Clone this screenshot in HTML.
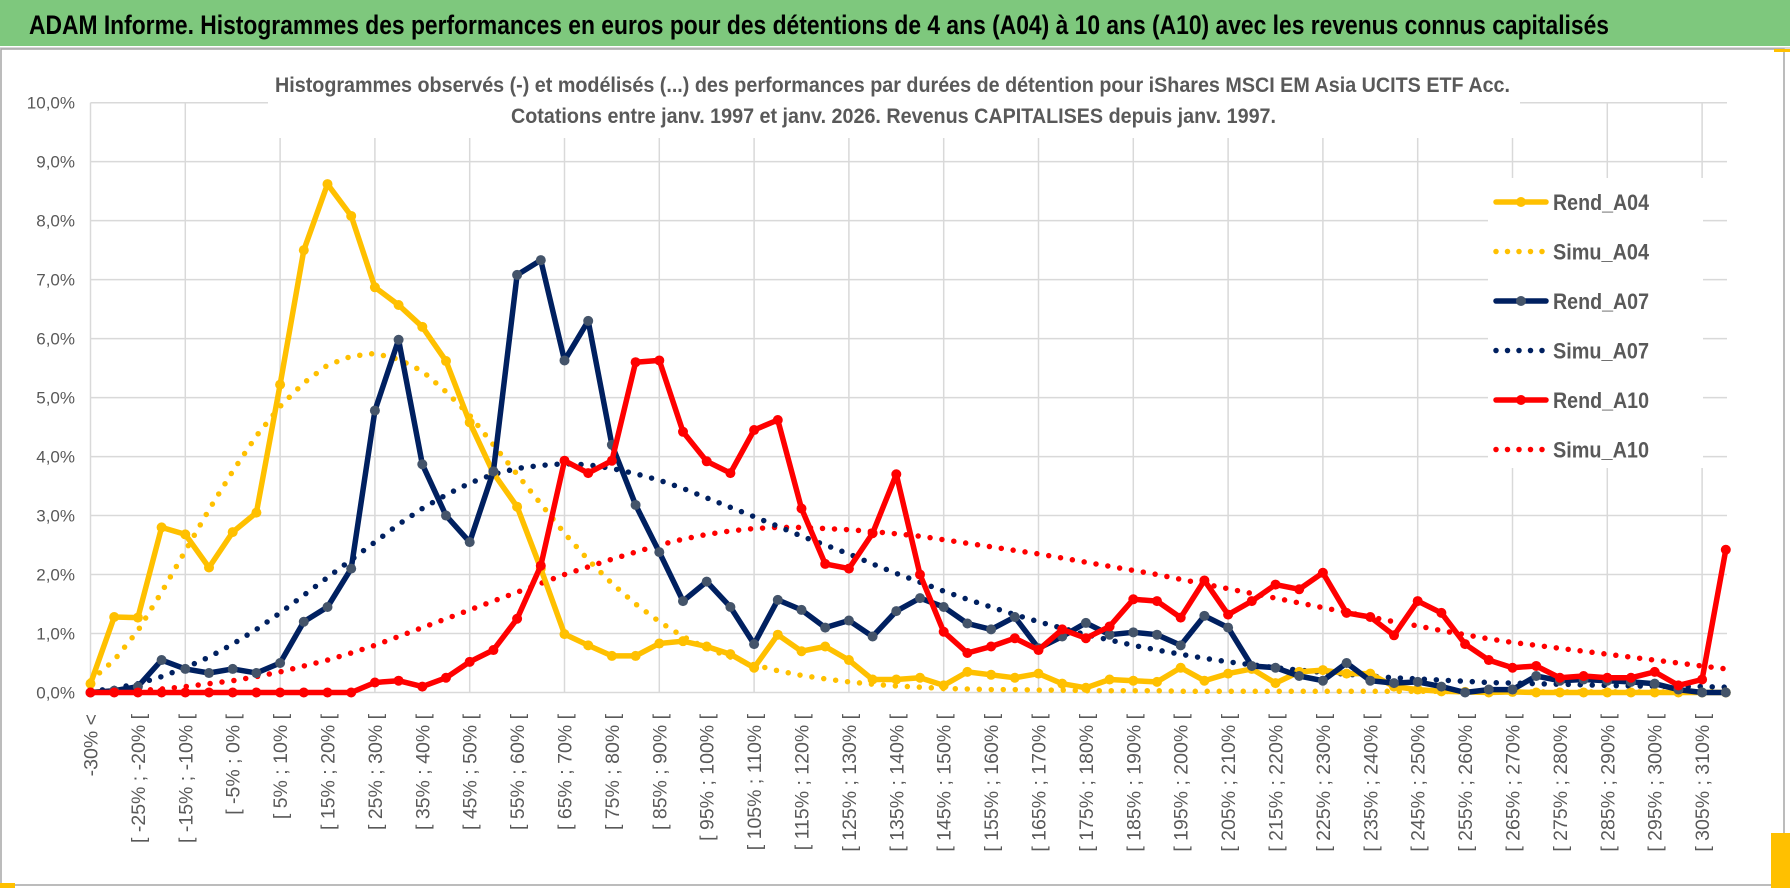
<!DOCTYPE html>
<html><head><meta charset="utf-8">
<style>
html,body{margin:0;padding:0;background:#fff;}
svg{display:block;font-family:"Liberation Sans",sans-serif;}
</style></head>
<body>
<svg id="chart" width="1790" height="888" viewBox="0 0 1790 888">
  <rect x="0" y="0" width="1790" height="888" fill="#ffffff"/>
  <rect x="0" y="0" width="1790" height="46" fill="#7ec87d"/>
  <line x1="0" y1="48" x2="1790" y2="48" stroke="#d9d9d9" stroke-width="2"/>
  <text x="29" y="34" font-size="27" font-weight="bold" fill="#000" textLength="1580" lengthAdjust="spacingAndGlyphs">ADAM Informe. Histogrammes des performances en euros pour des détentions de 4 ans (A04) à 10 ans (A10) avec les revenus connus capitalisés</text>
  <rect x="1" y="49" width="1783" height="836" fill="none" stroke="#a6a6a6" stroke-width="1.5"/>
  <rect x="1774" y="49" width="16" height="3" fill="#ffc000"/>
  <rect x="1771" y="833" width="19" height="55" fill="#ffc000"/>
  <rect x="0" y="883" width="15" height="5" fill="#ffc000"/>
  <g id="grid"></g>
  <g id="ylabels"></g>
  <g id="xlabels"></g>
  <rect x="268" y="70" width="1252" height="68" fill="#fff"/>
  <text x="275" y="92" font-size="21" font-weight="bold" fill="#595959" textLength="1235" lengthAdjust="spacingAndGlyphs">Histogrammes observés (-) et modélisés (...) des performances par durées de détention pour iShares MSCI EM Asia UCITS ETF Acc.</text>
  <text x="511" y="123" font-size="21" font-weight="bold" fill="#595959" textLength="765" lengthAdjust="spacingAndGlyphs">Cotations entre janv. 1997 et janv. 2026. Revenus CAPITALISES depuis janv. 1997.</text>
  <g id="series"></g>
  <g id="legend"></g>
</svg>
<script>
const rendA04 = [0.15,1.28,1.27,2.8,2.68,2.12,2.72,3.05,5.22,7.5,8.62,8.08,6.87,6.57,6.2,5.62,4.58,3.72,3.15,2.1,0.99,0.8,0.62,0.62,0.83,0.87,0.78,0.65,0.42,0.98,0.7,0.78,0.55,0.22,0.22,0.25,0.12,0.35,0.3,0.25,0.32,0.15,0.08,0.22,0.2,0.18,0.42,0.2,0.32,0.4,0.16,0.35,0.38,0.32,0.32,0.1,0.05,0.02,0.01,0.0,0.01,0.0,0.0,0.0,0.0,0.0,0.0,0.0,0.0,0.0];
const simuA04 = [0.2,0.55,1.05,1.7,2.4,3.1,3.75,4.35,4.85,5.25,5.55,5.7,5.75,5.65,5.45,5.1,4.7,4.2,3.7,3.2,2.7,2.25,1.85,1.5,1.2,0.95,0.75,0.6,0.47,0.37,0.29,0.23,0.18,0.14,0.11,0.09,0.07,0.06,0.05,0.05,0.04,0.04,0.03,0.03,0.03,0.03,0.02,0.02,0.02,0.02,0.02,0.02,0.02,0.02,0.02,0.02,0.02,0.02,0.01,0.01,0.01,0.01,0.01,0.01,0.01,0.01,0.01,0.01,0.01,0.01];
const rendA07 = [0.0,0.03,0.1,0.55,0.4,0.33,0.4,0.33,0.5,1.2,1.45,2.1,4.78,5.98,3.87,3.0,2.55,3.75,7.08,7.33,5.63,6.3,4.2,3.18,2.38,1.55,1.88,1.45,0.82,1.57,1.4,1.1,1.22,0.95,1.38,1.6,1.45,1.17,1.07,1.28,0.75,0.95,1.18,0.98,1.02,0.98,0.8,1.3,1.1,0.45,0.42,0.28,0.2,0.5,0.2,0.16,0.18,0.1,0.0,0.05,0.05,0.28,0.2,0.22,0.2,0.18,0.15,0.05,0.0,0.0];
const simuA07 = [0.02,0.07,0.15,0.27,0.42,0.6,0.82,1.07,1.35,1.65,1.95,2.25,2.55,2.85,3.12,3.35,3.55,3.7,3.8,3.85,3.88,3.86,3.8,3.71,3.6,3.46,3.3,3.14,2.98,2.82,2.65,2.5,2.35,2.18,2.02,1.87,1.72,1.58,1.45,1.32,1.2,1.09,0.98,0.89,0.8,0.72,0.65,0.58,0.52,0.47,0.42,0.38,0.34,0.31,0.28,0.25,0.23,0.21,0.19,0.17,0.16,0.15,0.14,0.13,0.12,0.11,0.11,0.1,0.1,0.09];
const rendA10 = [0,0,0,0,0,0,0,0,0,0,0,0,0.17,0.2,0.1,0.25,0.52,0.72,1.25,2.15,3.93,3.72,3.93,5.6,5.63,4.42,3.92,3.72,4.45,4.62,3.12,2.18,2.1,2.7,3.7,2.0,1.03,0.67,0.78,0.92,0.72,1.07,0.92,1.12,1.58,1.55,1.27,1.9,1.32,1.55,1.83,1.75,2.03,1.35,1.28,0.97,1.55,1.35,0.82,0.55,0.42,0.45,0.25,0.28,0.25,0.25,0.35,0.12,0.22,2.42];
const simuA10 = [0.0,0.01,0.03,0.06,0.1,0.15,0.2,0.27,0.35,0.45,0.55,0.67,0.8,0.95,1.1,1.25,1.4,1.55,1.7,1.85,2.0,2.13,2.26,2.38,2.5,2.6,2.68,2.74,2.78,2.8,2.8,2.78,2.76,2.73,2.69,2.65,2.59,2.53,2.47,2.41,2.35,2.28,2.21,2.14,2.07,2.0,1.92,1.84,1.76,1.68,1.6,1.52,1.44,1.36,1.28,1.2,1.13,1.05,0.98,0.91,0.85,0.8,0.75,0.7,0.65,0.6,0.55,0.5,0.45,0.4];
const yTicks = ["0,0%","1,0%","2,0%","3,0%","4,0%","5,0%","6,0%","7,0%","8,0%","9,0%","10,0%"];
const legendLabels = ["Rend_A04","Simu_A04","Rend_A07","Simu_A07","Rend_A10","Simu_A10"];

const NS = "http://www.w3.org/2000/svg";
const X0 = 90.5, DX = 23.7, Y0 = 692.5, YPX = 58.98, XR = 1727;
const xs = i => X0 + i * DX;
const ys = v => Y0 - v * YPX;
function mk(tag, attrs, parent){ const e = document.createElementNS(NS, tag); for (const k in attrs) e.setAttribute(k, attrs[k]); parent.appendChild(e); return e; }

function catLabel(i){
  if (i === 0) return "-30% <";
  const lo = -30 + 5 * (i - 1);
  return "[ " + lo + "% ; " + (lo + 5) + "% [";
}

const grid = document.getElementById('grid');
for (let t = 0; t < yTicks.length; t++) {
  const l = mk('line', {x1: X0, x2: XR, y1: ys(t), y2: ys(t), stroke: '#d9d9d9', 'stroke-width': 1.5}, grid);
  
  
}
const nCat = rendA04.length;
for (let i = 0; i < nCat; i += 4) {
  const l = mk('line', {x1: xs(i), x2: xs(i), y1: ys(10), y2: Y0, stroke: '#d9d9d9', 'stroke-width': 1.5}, grid);
  
  
}
const yl = document.getElementById('ylabels');
yTicks.forEach((t, k) => {
  const e = mk('text', {x: 75, y: ys(k) + 6, 'text-anchor': 'end', 'font-size': 17, fill: '#595959'}, yl);
  e.textContent = t;
  
  
});
const xl = document.getElementById('xlabels');
for (let i = 0; i < nCat; i += 2) {
  if (i > 68) break;
  const x = xs(i) + 7, y = 714;
  const e = mk('text', {x: x, y: y, 'text-anchor': 'end', 'font-size': 19.5, fill: '#595959', transform: 'rotate(-90 ' + x + ' ' + y + ')'}, xl);
  e.textContent = catLabel(i);
  
  
}

const series = document.getElementById('series');
function pts(arr){ return arr.map((v, i) => xs(i).toFixed(1) + ',' + ys(v).toFixed(1)).join(' '); }
function dotted(arr, color, name){
  const p = mk('polyline', {points: pts(arr), fill: 'none', stroke: color, 'stroke-width': 5.5, 'stroke-linecap': 'round', 'stroke-dasharray': '0 12'}, series);
  
  
}
function solid(arr, color, mcolor, name){
  const p = mk('polyline', {points: pts(arr), fill: 'none', stroke: color, 'stroke-width': 5.5, 'stroke-linejoin': 'round'}, series);
  
  
  arr.forEach((v, i) => {
    const c = mk('circle', {cx: xs(i), cy: ys(v), r: 5, fill: mcolor}, series);
    
    
  });
}
dotted(simuA10, '#ff0000', 'simu-a10-line');
dotted(simuA07, '#002060', 'simu-a07-line');
dotted(simuA04, '#ffc000', 'simu-a04-line');
solid(rendA04, '#ffc000', '#ffc000', 'rend-a04-line');
solid(rendA07, '#002060', '#44546a', 'rend-a07-line');
solid(rendA10, '#ff0000', '#ff0000', 'rend-a10-line');

const lg = document.getElementById('legend');
mk('rect', {x: 1488, y: 178, width: 215, height: 290, fill: '#fff'}, lg);
const lcol = ['#ffc000','#ffc000','#002060','#002060','#ff0000','#ff0000'];
const lmark = ['#ffc000',null,'#44546a',null,'#ff0000',null];
legendLabels.forEach((name, k) => {
  const y = 202 + k * 49.5;
  if (k % 2 === 0) {
    const l = mk('line', {x1: 1496, x2: 1546, y1: y, y2: y, stroke: lcol[k], 'stroke-width': 5.5, 'stroke-linecap': 'round'}, lg);
    
    
    mk('circle', {cx: 1521, cy: y, r: 5, fill: lmark[k]}, lg);
  } else {
    const l = mk('line', {x1: 1496, x2: 1546, y1: y, y2: y, stroke: lcol[k], 'stroke-width': 5.5, 'stroke-linecap': 'round', 'stroke-dasharray': '0 11.5'}, lg);
    
    
  }
  const t = mk('text', {x: 1553, y: y + 8, 'font-size': 22, 'font-weight': 'bold', fill: '#595959', textLength: 96, lengthAdjust: 'spacingAndGlyphs'}, lg);
  t.textContent = name;
  
  
});
</script>
</body></html>
